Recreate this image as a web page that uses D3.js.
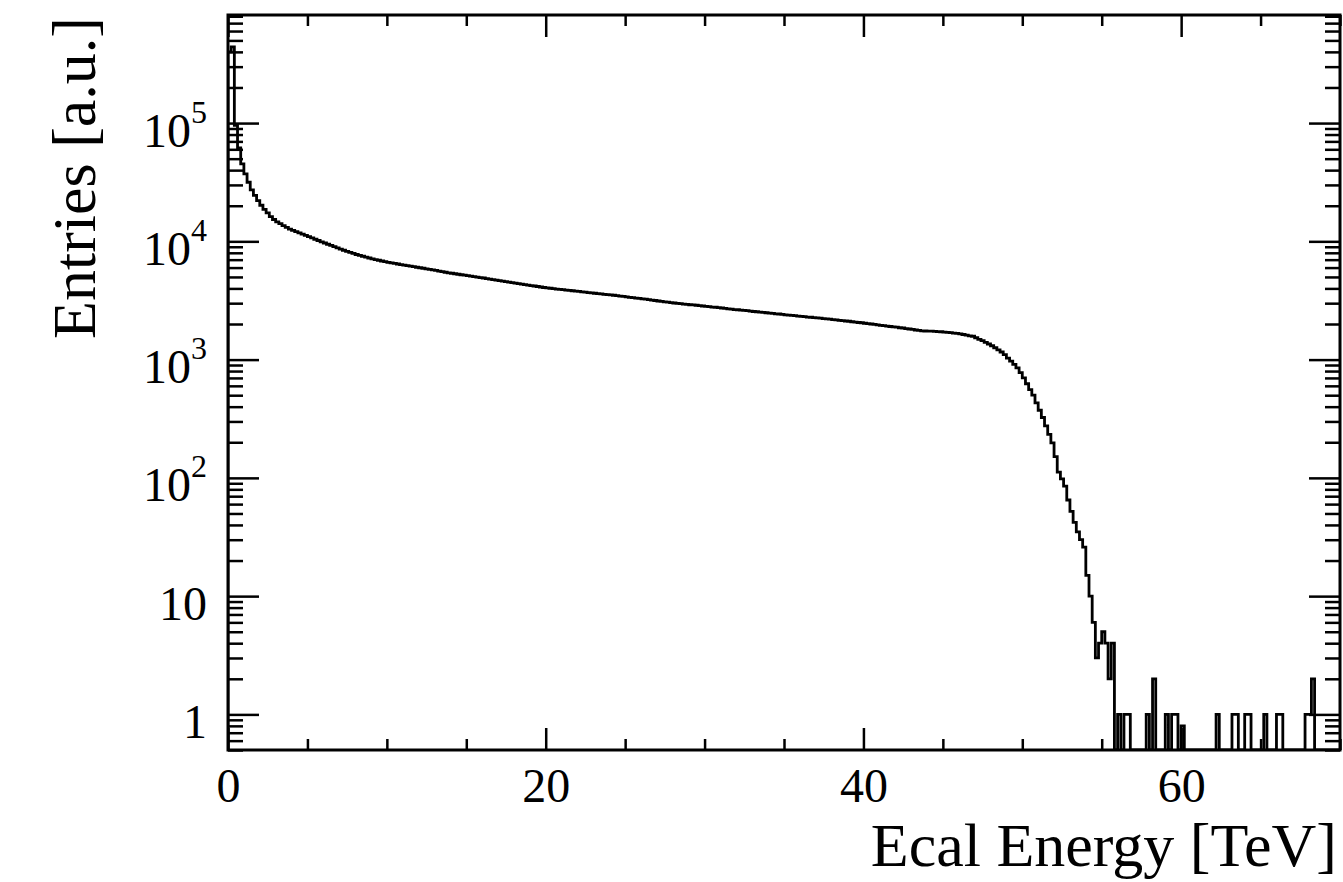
<!DOCTYPE html>
<html>
<head>
<meta charset="utf-8">
<script src="https://cdn.jsdelivr.net/npm/d3@7"></script>
<style>
  html, body { margin: 0; padding: 0; background: #fff; }
  svg { display: block; }
  text { font-family: "Liberation Serif", "Times New Roman", serif; fill: #000; }
</style>
</head>
<body>
<svg id="chart" width="1343" height="882"></svg>
<script>
// ---- Histogram: ECAL energy deposit, 0.2 TeV bins ----
const xTitle = "Ecal Energy [TeV]";
const yTitle = "Entries [a.u.]";
const energyRange = [0, 70];        // TeV
const binWidth = 0.2;               // TeV
const entriesRange = [0.5, 8.2e5];  // log axis limits

const xMajorTicks = [0, 20, 40, 60];
const xMinorStep = 5;
const yMajorTicks = [1, 10, 100, 1000, 10000, 100000];
const yTickBase = ["1", "10", "10", "10", "10", "10"];
const yTickExp  = ["",  "",   "2",  "3",  "4",  "5"];

// bin contents, one row per 2 TeV
const entries = [
  400000, 440000, 95500, 61700, 45200, 37200, 31600, 27200, 24500, 22100,
  20200, 18600, 17400, 16200, 15300, 14600, 14100, 13600, 13100, 12700,
  12390, 12080, 11800, 11510, 11220, 10940, 10690, 10420, 10160, 9910,
  9680, 9450, 9230, 9010, 8790, 8600, 8410, 8240, 8070, 7910,
  7740, 7620, 7480, 7360, 7230, 7110, 7010, 6920, 6820, 6730,
  6650, 6580, 6500, 6430, 6350, 6300, 6230, 6170, 6110, 6040,
  5980, 5920, 5860, 5800, 5740, 5680, 5610, 5550, 5480, 5420,
  5370, 5320, 5270, 5220, 5180, 5130, 5080, 5040, 4990, 4940,
  4900, 4840, 4800, 4750, 4700, 4660, 4600, 4560, 4520, 4470,
  4430, 4390, 4350, 4310, 4270, 4230, 4190, 4150, 4110, 4070,
  4040, 4010, 3980, 3950, 3930, 3900, 3870, 3850, 3820, 3790,
  3770, 3740, 3720, 3690, 3660, 3640, 3610, 3590, 3560, 3540,
  3520, 3500, 3475, 3440, 3420, 3390, 3365, 3340, 3310, 3290,
  3260, 3240, 3210, 3180, 3160, 3130, 3110, 3080, 3060, 3030,
  3010, 2990, 2970, 2950, 2930, 2910, 2900, 2880, 2860, 2840,
  2820, 2800, 2780, 2770, 2750, 2730, 2710, 2690, 2670, 2650,
  2640, 2620, 2610, 2590, 2570, 2550, 2540, 2520, 2510, 2490,
  2470, 2455, 2440, 2430, 2410, 2390, 2380, 2370, 2350, 2330,
  2320, 2310, 2290, 2280, 2260, 2250, 2240, 2220, 2210, 2200,
  2180, 2170, 2150, 2140, 2120, 2110, 2090, 2075, 2060, 2050,
  2030, 2015, 2000, 1985, 1970, 1950, 1940, 1920, 1905, 1890,
  1880, 1860, 1850, 1830, 1815, 1800, 1780, 1770, 1750, 1745,
  1740, 1740, 1735, 1725, 1720, 1710, 1700, 1690, 1675, 1665,
  1650, 1630, 1610, 1590, 1575, 1530, 1485, 1445, 1400, 1355,
  1310, 1260, 1210, 1160, 1100, 1030, 970, 910, 850, 775,
  700, 625, 558, 500, 430, 373, 324, 275, 233, 198,
  151, 112, 98, 85, 65, 52, 42, 35, 30, 26,
  15, 10, 6, 3, 4, 5, 4, 2, 4, 0,
  1, 0, 1, 1, 0, 0, 0, 0, 0, 1,
  0, 2, 0, 0, 0, 1, 0, 1, 1, 0,
  0.8, 0, 0, 0, 0, 0, 0, 0, 0, 0,
  0, 1, 0, 0, 0, 0, 1, 1, 0, 0,
  1, 1, 0, 0, 0, 0, 1, 0, 0, 0,
  1, 1, 0, 0, 0, 0, 0, 0, 0, 1,
  1, 2, 0, 0, 0, 0, 0, 0, 0, 0
];

// ---- layout ----
const frame = { left: 228, right: 1340, top: 15, bottom: 750 };
const labelSize = 48, titleSize = 62, supSize = 32;
const majorX = 22, minorX = 11, majorY = 31, minorY = 15;
const tickStroke = 2.5;

const svg = d3.select("#chart");

const x = d3.scaleLinear().domain(energyRange).range([frame.left, frame.right]);
const y = d3.scaleLog().domain(entriesRange).range([frame.bottom, frame.top]);

const xMinorTicks = d3.range(energyRange[0], energyRange[1] + 1e-9, xMinorStep)
  .filter(v => !xMajorTicks.includes(v));
const yMinorTicks = [];
for (let k = -1; k <= 5; k++) {
  for (let m = 2; m <= 9; m++) {
    const v = m * Math.pow(10, k);
    if (v >= entriesRange[0] && v <= entriesRange[1]) yMinorTicks.push(v);
  }
}

// ---- histogram outline ----
const clipId = "plot-area";
svg.append("clipPath").attr("id", clipId)
  .append("rect")
  .attr("x", frame.left).attr("y", frame.top)
  .attr("width", frame.right - frame.left).attr("height", frame.bottom - frame.top);

const pts = [[x(energyRange[0]), frame.bottom]];
entries.forEach((v, i) => {
  const x0 = energyRange[0] + i * binWidth, x1 = x0 + binWidth;
  const yy = v > 0 ? y(Math.max(v, entriesRange[0])) : frame.bottom;
  pts.push([x(x0), yy], [x(x1), yy]);
});
pts.push([x(energyRange[0] + entries.length * binWidth), frame.bottom]);

svg.append("path")
  .attr("clip-path", `url(#${clipId})`)
  .attr("d", d3.line()(pts))
  .attr("fill", "none")
  .attr("stroke", "#000")
  .attr("stroke-width", 2.8)
  .attr("stroke-linejoin", "miter");

// ---- axes (ticks point into the frame) ----
function addAxis(axis, tx, ty) {
  const g = svg.append("g")
    .attr("transform", `translate(${tx},${ty})`)
    .call(axis)
    .attr("font-size", null).attr("font-family", null);
  g.select(".domain").remove();
  g.selectAll(".tick line").attr("stroke", "#000").attr("stroke-width", tickStroke);
  return g;
}

// bottom
const gxb = addAxis(d3.axisBottom(x).tickValues(xMajorTicks).tickSizeInner(-majorX)
  .tickSizeOuter(0).tickFormat(d3.format("d")), 0, frame.bottom);
gxb.selectAll(".tick text")
  .attr("y", 52).attr("dy", 0)
  .attr("font-size", labelSize);
addAxis(d3.axisBottom(x).tickValues(xMinorTicks).tickSizeInner(-minorX)
  .tickSizeOuter(0).tickFormat(() => ""), 0, frame.bottom);

// top
addAxis(d3.axisTop(x).tickValues(xMajorTicks).tickSizeInner(-majorX)
  .tickSizeOuter(0).tickFormat(() => ""), 0, frame.top);
addAxis(d3.axisTop(x).tickValues(xMinorTicks).tickSizeInner(-minorX)
  .tickSizeOuter(0).tickFormat(() => ""), 0, frame.top);

// left
const gyl = addAxis(d3.axisLeft(y).tickValues(yMajorTicks).tickSizeInner(-majorY)
  .tickSizeOuter(0).tickPadding(21).tickFormat(() => ""), frame.left, 0);
gyl.selectAll(".tick text").each(function (d) {
  const i = yMajorTicks.indexOf(d);
  const t = d3.select(this)
    .attr("dy", 23)
    .attr("font-size", labelSize)
    .attr("text-anchor", "end");
  t.append("tspan").text(yTickBase[i]);
  if (yTickExp[i]) {
    t.append("tspan").attr("dy", -24).attr("font-size", supSize).text(yTickExp[i]);
  }
});
addAxis(d3.axisLeft(y).tickValues(yMinorTicks).tickSizeInner(-minorY)
  .tickSizeOuter(0).tickFormat(() => ""), frame.left, 0);

// right
addAxis(d3.axisRight(y).tickValues(yMajorTicks).tickSizeInner(-majorY)
  .tickSizeOuter(0).tickFormat(() => ""), frame.right, 0);
addAxis(d3.axisRight(y).tickValues(yMinorTicks).tickSizeInner(-minorY)
  .tickSizeOuter(0).tickFormat(() => ""), frame.right, 0);

// ---- frame ----
svg.append("rect")
  .attr("x", frame.left).attr("y", frame.top)
  .attr("width", frame.right - frame.left).attr("height", frame.bottom - frame.top)
  .attr("fill", "none").attr("stroke", "#000").attr("stroke-width", 3);

// ---- axis titles ----
svg.append("text")
  .attr("x", 1337).attr("y", 866)
  .attr("text-anchor", "end")
  .attr("font-size", titleSize)
  .text(xTitle);

svg.append("text")
  .attr("transform", "translate(95,17) rotate(-90)")
  .attr("text-anchor", "end")
  .attr("font-size", titleSize)
  .text(yTitle);
</script>
</body>
</html>
